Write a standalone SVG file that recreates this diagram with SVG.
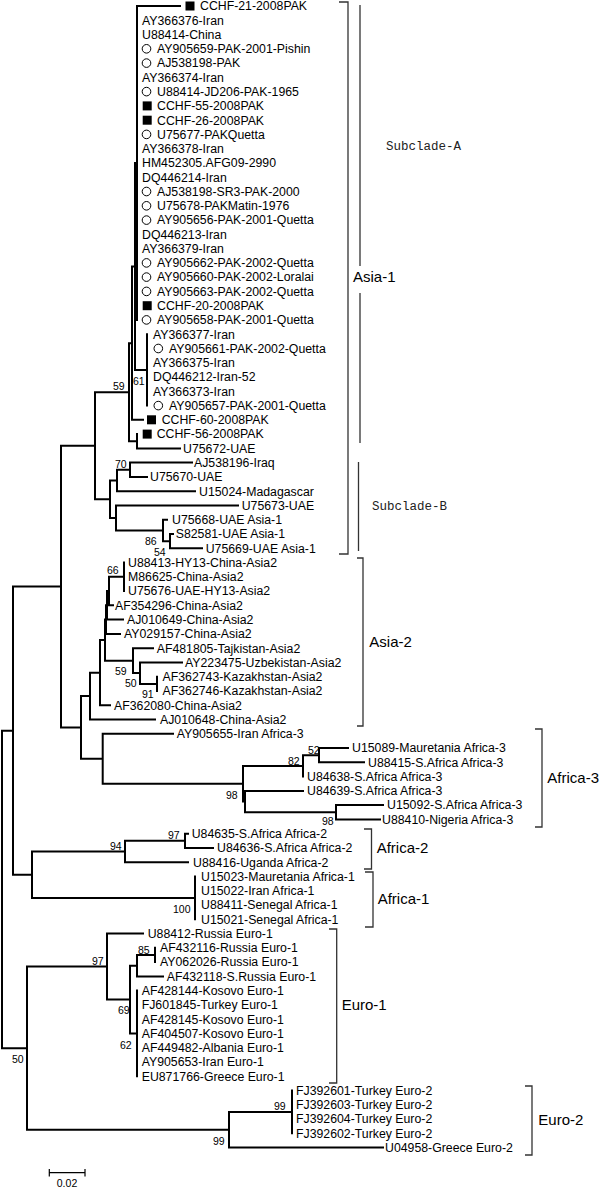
<svg xmlns="http://www.w3.org/2000/svg" width="600" height="1188" viewBox="0 0 600 1188">
<style>
.b{fill:none;stroke:#000;stroke-width:2;stroke-linecap:square}
.br{fill:none;stroke:#333;stroke-width:1.3}
text{font-family:"Liberation Sans",Arial,sans-serif;fill:#000}
.t{font-size:12.3px}
.bs{font-size:10.5px}
.cl{font-size:15px}
.sc{font-family:"Liberation Mono","Courier New",monospace;font-size:12.5px;fill:#222}
.ci{fill:#fff;stroke:#000;stroke-width:1}
</style>
<defs>
<rect id="sq" width="9" height="9" fill="#000"/>
<circle id="ci" r="4.3" class="ci"/>
</defs>
<rect width="600" height="1188" fill="#fff"/>
<g id="connectors">
<path class="b" d="M137 6V320M137 6H180M135 163V370M135 163H137M135 370H147M147 334.2V405.6M132 266.5V419.8M132 266.5H135M132 419.8H143M137 434.1V448.4M137 448.4H180M129 343.2V441.3M129 343.2H132M129 441.3H137"/>
<path class="b" d="M130 462.6V476.9M130 462.6H192M130 476.9H147M117 469.8V491.2M117 469.8H130M117 491.2H195M170 534V548.3M170 534H173M170 548.3H202M163 519.7V541.2M163 519.7H167M163 541.2H170M116 505.5V530.4M116 505.5H238M116 530.4H163M110 480.5V518M110 480.5H117M110 518H116M95 392.2V499.2M95 392.2H129M95 499.2H110"/>
<path class="b" d="M124 562.5V591.1M109 576.8V605.3M109 576.8H124M109 605.3H113M107 591V619.6M107 591H109M107 619.6H123M106 605.3V633.9M106 605.3H107M106 633.9H120M157 676.7V691M140 662.4V683.9M140 662.4H182M140 683.9H157M133 648.2V673.1M133 648.2H153M133 673.1H140M105 619.6V660.7M105 619.6H106M105 660.7H133M100 640.1V705.2M100 640.1H105M100 705.2H110M90 672.7V719.5M90 672.7H100M90 719.5H155"/>
<path class="b" d="M319 748V762.3M319 748H348M319 762.3H364M303 755.2V776.6M303 755.2H319M336 805.1V819.4M336 805.1H383M336 819.4H380M245 790.9V812.3M245 790.9H303M245 812.3H336M243 765.9V801.6M243 765.9H303M243 801.6H245M102.7 733.8V783.8M102.7 733.8H173M102.7 783.8H243M81 696.1V758.8M81 696.1H90M81 758.8H102.7M61 445.7V727.5M61 445.7H95M61 727.5H81"/>
<path class="b" d="M185 833.7V847.9M185 833.7H188M185 847.9H213M125 840.8V862.2M125 840.8H185M125 862.2H188M195 876.5V919.3M32 851.5V897.9M32 851.5H125M32 897.9H195M13 586.6V874.7M13 586.6H61M13 874.7H32"/>
<path class="b" d="M155 947.8V962.1M137 955V976.4M137 955H155M137 976.4H163M137 990.6V1076.3M130 965.7V1033.5M130 965.7H137M130 1033.5H137M107 933.6V999.6M107 933.6H143M107 999.6H130M292 1090.5V1133.3M229 1111.9V1147.6M229 1111.9H292M229 1147.6H383M27 966.6V1129.8M27 966.6H107M27 1129.8H229M2 730.7V1048.2M2 730.7H13M2 1048.2H27"/>
</g>
<g id="support" class="bs">
<text x="113" y="390">59</text><text x="133" y="385">61</text><text x="115" y="468">70</text>
<text x="145" y="545">86</text><text x="154" y="556">54</text><text x="107" y="574">66</text>
<text x="115" y="675">59</text><text x="125" y="687">50</text><text x="142" y="698">91</text>
<text x="308" y="754">52</text><text x="288" y="765">82</text><text x="226" y="799">98</text>
<text x="322" y="825">98</text><text x="168" y="839">97</text><text x="110" y="850">94</text>
<text x="173" y="913">100</text><text x="138" y="954">85</text><text x="92" y="965">97</text>
<text x="118" y="1014">69</text><text x="120" y="1049">62</text><text x="12" y="1063">50</text>
<text x="274" y="1110">99</text><text x="213" y="1145">99</text>
</g>
<g id="leaves" class="t">
<g id="n0"><use href="#sq" x="185.5" y="1.5"/><text x="200" y="10.3">CCHF-21-2008PAK</text></g>
<g id="n1"><text x="142" y="24.6">AY366376-Iran</text></g>
<g id="n2"><text x="142" y="38.8">U88414-China</text></g>
<g id="n3"><use href="#ci" x="146.5" y="48.8"/><text x="157" y="53.1">AY905659-PAK-2001-Pishin</text></g>
<g id="n4"><use href="#ci" x="146.5" y="63.1"/><text x="157" y="67.4">AJ538198-PAK</text></g>
<g id="n5"><text x="142" y="81.7">AY366374-Iran</text></g>
<g id="n6"><use href="#ci" x="146.5" y="91.6"/><text x="157" y="95.9">U88414-JD206-PAK-1965</text></g>
<g id="n7"><use href="#sq" x="142.7" y="101.4"/><text x="157" y="110.2">CCHF-55-2008PAK</text></g>
<g id="n8"><use href="#sq" x="142.7" y="115.7"/><text x="157" y="124.5">CCHF-26-2008PAK</text></g>
<g id="n9"><use href="#ci" x="146.5" y="134.4"/><text x="157" y="138.7">U75677-PAKQuetta</text></g>
<g id="n10"><text x="142" y="153">AY366378-Iran</text></g>
<g id="n11"><text x="142" y="167.3">HM452305.AFG09-2990</text></g>
<g id="n12"><text x="142" y="181.5">DQ446214-Iran</text></g>
<g id="n13"><use href="#ci" x="146.5" y="191.5"/><text x="157" y="195.8">AJ538198-SR3-PAK-2000</text></g>
<g id="n14"><use href="#ci" x="146.5" y="205.8"/><text x="157" y="210.1">U75678-PAKMatin-1976</text></g>
<g id="n15"><use href="#ci" x="146.5" y="220.1"/><text x="157" y="224.4">AY905656-PAK-2001-Quetta</text></g>
<g id="n16"><text x="142" y="238.6">DQ446213-Iran</text></g>
<g id="n17"><text x="142" y="252.9">AY366379-Iran</text></g>
<g id="n18"><use href="#ci" x="146.5" y="262.9"/><text x="157" y="267.2">AY905662-PAK-2002-Quetta</text></g>
<g id="n19"><use href="#ci" x="146.5" y="277.1"/><text x="157" y="281.4">AY905660-PAK-2002-Loralai</text></g>
<g id="n20"><use href="#ci" x="146.5" y="291.4"/><text x="157" y="295.7">AY905663-PAK-2002-Quetta</text></g>
<g id="n21"><use href="#sq" x="142.7" y="301.2"/><text x="157" y="310">CCHF-20-2008PAK</text></g>
<g id="n22"><use href="#ci" x="146.5" y="319.9"/><text x="157" y="324.2">AY905658-PAK-2001-Quetta</text></g>
<g id="n23"><text x="153" y="338.5">AY366377-Iran</text></g>
<g id="n24"><use href="#ci" x="158.3" y="348.5"/><text x="169" y="352.8">AY905661-PAK-2002-Quetta</text></g>
<g id="n25"><text x="153" y="367.1">AY366375-Iran</text></g>
<g id="n26"><text x="153" y="381.3">DQ446212-Iran-52</text></g>
<g id="n27"><text x="153" y="395.6">AY366373-Iran</text></g>
<g id="n28"><use href="#ci" x="158.3" y="405.6"/><text x="169" y="409.9">AY905657-PAK-2001-Quetta</text></g>
<g id="n29"><use href="#sq" x="147" y="415.3"/><text x="161.7" y="424.1">CCHF-60-2008PAK</text></g>
<g id="n30"><use href="#sq" x="142.7" y="429.6"/><text x="156.7" y="438.4">CCHF-56-2008PAK</text></g>
<g id="n31"><text x="183" y="452.7">U75672-UAE</text></g>
<g id="n32"><text x="194" y="466.9">AJ538196-Iraq</text></g>
<g id="n33"><text x="150" y="481.2">U75670-UAE</text></g>
<g id="n34"><text x="199" y="495.5">U15024-Madagascar</text></g>
<g id="n35"><text x="241.7" y="509.8">U75673-UAE</text></g>
<g id="n36"><text x="172" y="524">U75668-UAE Asia-1</text></g>
<g id="n37"><text x="175.7" y="538.3">S82581-UAE Asia-1</text></g>
<g id="n38"><text x="205.7" y="552.6">U75669-UAE Asia-1</text></g>
<g id="n39"><text x="128" y="566.8">U88413-HY13-China-Asia2</text></g>
<g id="n40"><text x="128" y="581.1">M86625-China-Asia2</text></g>
<g id="n41"><text x="128" y="595.4">U75676-UAE-HY13-Asia2</text></g>
<g id="n42"><text x="115" y="609.6">AF354296-China-Asia2</text></g>
<g id="n43"><text x="127" y="623.9">AJ010649-China-Asia2</text></g>
<g id="n44"><text x="124" y="638.2">AY029157-China-Asia2</text></g>
<g id="n45"><text x="156.7" y="652.5">AF481805-Tajkistan-Asia2</text></g>
<g id="n46"><text x="185" y="666.7">AY223475-Uzbekistan-Asia2</text></g>
<g id="n47"><text x="162.5" y="681">AF362743-Kazakhstan-Asia2</text></g>
<g id="n48"><text x="162.5" y="695.3">AF362746-Kazakhstan-Asia2</text></g>
<g id="n49"><text x="114" y="709.5">AF362080-China-Asia2</text></g>
<g id="n50"><text x="160" y="723.8">AJ010648-China-Asia2</text></g>
<g id="n51"><text x="176.7" y="738.1">AY905655-Iran Africa-3</text></g>
<g id="n52"><text x="352" y="752.3">U15089-Mauretania Africa-3</text></g>
<g id="n53"><text x="368" y="766.6">U88415-S.Africa Africa-3</text></g>
<g id="n54"><text x="307" y="780.9">U84638-S.Africa Africa-3</text></g>
<g id="n55"><text x="307" y="795.2">U84639-S.Africa Africa-3</text></g>
<g id="n56"><text x="387" y="809.4">U15092-S.Africa Africa-3</text></g>
<g id="n57"><text x="382" y="823.7">U88410-Nigeria Africa-3</text></g>
<g id="n58"><text x="191.7" y="838">U84635-S.Africa Africa-2</text></g>
<g id="n59"><text x="217" y="852.2">U84636-S.Africa Africa-2</text></g>
<g id="n60"><text x="193" y="866.5">U88416-Uganda Africa-2</text></g>
<g id="n61"><text x="201" y="880.8">U15023-Mauretania Africa-1</text></g>
<g id="n62"><text x="201" y="895">U15022-Iran Africa-1</text></g>
<g id="n63"><text x="201" y="909.3">U88411-Senegal Africa-1</text></g>
<g id="n64"><text x="201" y="923.6">U15021-Senegal Africa-1</text></g>
<g id="n65"><text x="147.7" y="937.9">U88412-Russia Euro-1</text></g>
<g id="n66"><text x="160" y="952.1">AF432116-Russia Euro-1</text></g>
<g id="n67"><text x="160" y="966.4">AY062026-Russia Euro-1</text></g>
<g id="n68"><text x="166.7" y="980.7">AF432118-S.Russia Euro-1</text></g>
<g id="n69"><text x="141.7" y="994.9">AF428144-Kosovo Euro-1</text></g>
<g id="n70"><text x="141.7" y="1009.2">FJ601845-Turkey Euro-1</text></g>
<g id="n71"><text x="141.7" y="1023.5">AF428145-Kosovo Euro-1</text></g>
<g id="n72"><text x="141.7" y="1037.7">AF404507-Kosovo Euro-1</text></g>
<g id="n73"><text x="141.7" y="1052">AF449482-Albania Euro-1</text></g>
<g id="n74"><text x="141.7" y="1066.3">AY905653-Iran Euro-1</text></g>
<g id="n75"><text x="141.7" y="1080.6">EU871766-Greece Euro-1</text></g>
<g id="n76"><text x="296" y="1094.8">FJ392601-Turkey Euro-2</text></g>
<g id="n77"><text x="296" y="1109.1">FJ392603-Turkey Euro-2</text></g>
<g id="n78"><text x="296" y="1123.4">FJ392604-Turkey Euro-2</text></g>
<g id="n79"><text x="296" y="1137.6">FJ392602-Turkey Euro-2</text></g>
<g id="n80"><text x="385" y="1151.9">U04958-Greece Euro-2</text></g>
</g>
<g id="clades">
<g id="asia1"><path class="br" d="M339 2H348V554H339"/><text class="cl" x="353" y="282">Asia-1</text></g>
<g id="subA"><path class="br" d="M360 5V266M360 293V443"/><text class="sc" x="386" y="149.5">Subclade-A</text></g>
<g id="subB"><path class="br" d="M358.5 462V551"/><text class="sc" x="372" y="510">Subclade-B</text></g>
<g id="asia2"><path class="br" d="M357 558H363V726H357"/><text class="cl" x="369.3" y="647">Asia-2</text></g>
<g id="africa3"><path class="br" d="M535 729H542V827H535"/><text class="cl" x="547.3" y="782.7">Africa-3</text></g>
<g id="africa2"><path class="br" d="M364 829H371.5V869H364"/><text class="cl" x="376.7" y="853.4">Africa-2</text></g>
<g id="africa1"><path class="br" d="M365 872H373V927H365"/><text class="cl" x="377.7" y="904.4">Africa-1</text></g>
<g id="euro1"><path class="br" d="M329 929H336.7V1083H329"/><text class="cl" x="341.7" y="1010.4">Euro-1</text></g>
<g id="euro2"><path class="br" d="M525 1086H532V1155H525"/><text class="cl" x="538.3" y="1124.7">Euro-2</text></g>
</g>
<g id="scale">
<path class="br" d="M49.3 1172.7H85M49.3 1169V1176.5M85 1169V1176.5" style="stroke:#000;stroke-width:1.2"/>
<text x="67" y="1186.8" font-size="10.5" text-anchor="middle">0.02</text>
</g>
</svg>
